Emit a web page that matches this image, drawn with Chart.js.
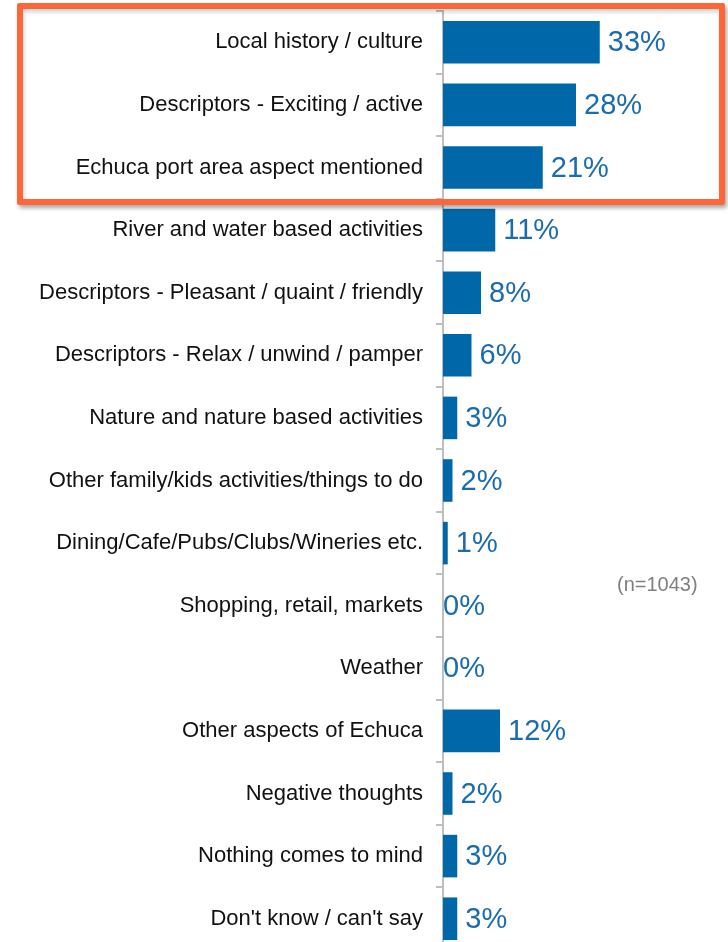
<!DOCTYPE html>
<html>
<head>
<meta charset="utf-8">
<script src="https://cdn.jsdelivr.net/npm/chart.js@4.4.1/dist/chart.umd.min.js"></script>
<style>
  html, body { margin: 0; padding: 0; background: #fff; overflow: hidden; }
  #wrap { position: relative; width: 728px; height: 942px; overflow: hidden; }
  #chart { position: absolute; left: 0; top: 0; }
  #highlight {
    position: absolute; left: 17px; top: 3px; width: 696px; height: 190px;
    border: 6px solid #fe6637; border-radius: 2px;
    box-shadow: 2px 3px 4px rgba(0,0,0,0.35), inset 1px 3px 4px rgba(0,0,0,0.18);
    pointer-events: none;
  }
</style>
</head>
<body>
<div id="wrap">
  <canvas id="chart" width="728" height="950"></canvas>
  <div id="highlight"></div>
</div>
<script>
const categories = [
  "Local history / culture",
  "Descriptors - Exciting / active",
  "Echuca port area aspect mentioned",
  "River and water based activities",
  "Descriptors - Pleasant / quaint / friendly",
  "Descriptors - Relax / unwind / pamper",
  "Nature and nature based activities",
  "Other family/kids activities/things to do",
  "Dining/Cafe/Pubs/Clubs/Wineries etc.",
  "Shopping, retail, markets",
  "Weather",
  "Other aspects of Echuca",
  "Negative thoughts",
  "Nothing comes to mind",
  "Don't know / can't say"
];
const percentages = [33, 28, 21, 11, 8, 6, 3, 2, 1, 0, 0, 12, 2, 3, 3];
const sampleNote = "(n=1043)";

const barBlue = "#0067a9";
const labelBlue = "#1a6cae";

// value labels at the end of each bar, plus the sample size note
const valueLabels = {
  id: "valueLabels",
  afterDatasetsDraw(chart) {
    const ctx = chart.ctx;
    const meta = chart.getDatasetMeta(0);
    ctx.save();
    ctx.font = "29px 'Liberation Sans', Arial, sans-serif";
    ctx.fillStyle = labelBlue;
    ctx.textBaseline = "middle";
    ctx.textAlign = "left";
    meta.data.forEach((bar, i) => {
      const v = percentages[i];
      const x = v === 0 ? bar.base : bar.x + 8;
      ctx.fillText(v + "%", x, bar.y + 1);
    });
    ctx.font = "20px 'Liberation Sans', Arial, sans-serif";
    ctx.fillStyle = "#7f7f7f";
    ctx.fillText(sampleNote, 617, 585);
    ctx.restore();
  }
};

new Chart(document.getElementById("chart"), {
  type: "bar",
  data: {
    labels: categories,
    datasets: [{
      data: percentages,
      backgroundColor: barBlue,
      borderWidth: 0,
      barPercentage: 0.68,
      categoryPercentage: 1
    }]
  },
  options: {
    indexAxis: "y",
    responsive: false,
    animation: false,
    layout: { padding: { top: 11, right: 0, bottom: 0, left: 0 } },
    plugins: {
      legend: { display: false },
      tooltip: { enabled: false }
    },
    scales: {
      x: {
        display: false,
        min: 0,
        max: 60
      },
      y: {
        afterFit(scale) {
          // fixed axis position, no extra room for the end labels
          scale.width = 443;
          scale.paddingTop = 0;
          scale.paddingBottom = 0;
        },
        border: { display: true, color: "#bfbfbf", width: 2 },
        grid: {
          offset: true,
          drawOnChartArea: false,
          drawTicks: true,
          tickLength: 7,
          color: "#bfbfbf",
          lineWidth: 2
        },
        ticks: {
          padding: 13,
          color: "#111",
          font: { family: "'Liberation Sans', Arial, sans-serif", size: 22 }
        }
      }
    }
  },
  plugins: [valueLabels]
});
</script>
</body>
</html>
